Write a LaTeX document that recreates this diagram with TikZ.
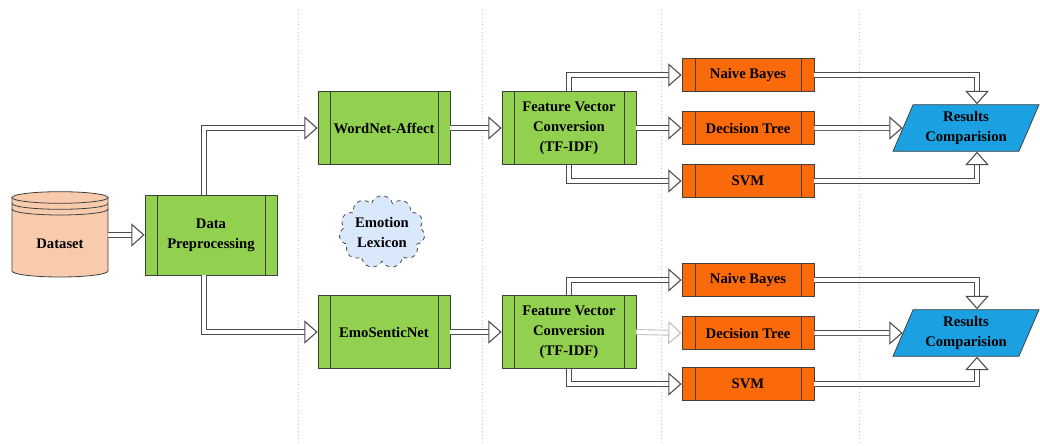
\documentclass[tikz,border=0pt]{standalone}
\usepackage{fontspec}
\setmainfont{Liberation Serif}
\usetikzlibrary{arrows.meta,calc,positioning,shapes.geometric,shapes.symbols}
\definecolor{peach}{HTML}{F8CBAD}
\definecolor{grn}{HTML}{92D050}
\definecolor{orng}{HTML}{FA6A0A}
\definecolor{azul}{HTML}{1BA1E2}
\definecolor{nube}{HTML}{DAE8FC}
\tikzset{
  txt/.style={font=\fontsize{11}{15}\selectfont\bfseries,align=center,inner sep=0pt},
  bars/.style={path picture={\draw[black!75,line width=0.6pt]
      ($(path picture bounding box.north west)+(#1,0)$) -- ($(path picture bounding box.south west)+(#1,0)$)
      ($(path picture bounding box.north east)+(-#1,0)$) -- ($(path picture bounding box.south east)+(-#1,0)$);}},
  proc/.style={txt,rectangle,draw=black!75,line width=0.6pt,fill=grn,minimum width=99pt,minimum height=54.75pt,bars=9pt},
  clf/.style={txt,rectangle,draw=black!75,line width=0.6pt,fill=orng,minimum width=99pt,minimum height=24.75pt,bars=9.75pt},
  res/.style={txt,trapezium,trapezium left angle=65,trapezium right angle=115,trapezium stretches=true,
      draw=black!75,line width=0.6pt,fill=azul,minimum width=110pt,minimum height=35pt},
  conn/.style={draw=black!70,line width=0.7pt,double=white,double distance=3pt,
      -{Triangle[length=10pt,width=17.5pt,fill=white,line width=0.8pt]}},
  faint/.style={conn,draw=black!25},
  sep/.style={gray!45,dotted,line width=0.7pt}
}
\begin{document}
\begin{tikzpicture}[x=0.75pt,y=-0.75pt]
\useasboundingbox (0,0) rectangle (1040,446);
% column separators
\foreach \c in {298,482,661,859}{\draw[sep] (\c,10) -- (\c,446);}
% dataset drum
\fill[peach] (12,197.5) -- (12,271) arc[start angle=180,end angle=0,x radius=48,y radius=6]
  -- (108,197.5) arc[start angle=0,end angle=-180,x radius=48,y radius=5.8] -- cycle;
\draw[black!75,line width=0.6pt] (12,197.5) -- (12,271) arc[start angle=180,end angle=0,x radius=48,y radius=6]
  -- (108,197.5);
\draw[black!75,line width=0.6pt] (60,197.5) ellipse[x radius=48,y radius=5.8];
\foreach \d in {6,11.7}{\draw[black!75,line width=0.6pt] (12,197.5+\d) arc[start angle=180,end angle=0,x radius=48,y radius=5.8];}
\node[txt,minimum width=72pt,minimum height=60pt] (dataset) at (60,235) {\raisebox{-10pt}[0pt][0pt]{Dataset}};

\node[proc,minimum height=60pt] (pre) at (211,235) {Data\\Preprocessing};
\node[proc] (wna) at (384,128) {WordNet-Affect};
\node[proc] (esn) at (384,332) {EmoSenticNet};
\node[txt,cloud,cloud puffs=11,aspect=1.3,draw=black!70,dashed,line width=0.6pt,fill=nube,
  minimum width=64pt,minimum height=50pt] (lex) at (382,232) {Emotion\\Lexicon};

\node[proc,minimum width=100.5pt] (fv1) at (569,128) {Feature Vector\\Conversion\\(TF-IDF)};
\node[proc,minimum width=100.5pt] (fv2) at (569,332) {Feature Vector\\Conversion\\(TF-IDF)};

\node[clf] (nb1) at (748,75) {Naive Bayes};
\node[clf] (dt1) at (748,128) {Decision Tree};
\node[clf] (svm1) at (748,181) {SVM};
\node[clf] (nb2) at (748,280) {Naive Bayes};
\node[clf] (dt2) at (748,333) {Decision Tree};
\node[clf] (svm2) at (748,384) {SVM};

\node[res] (res1) at (966,128) {Results\\Comparision};
\node[res] (res2) at (966,333) {Results\\Comparision};

% connectors
\draw[conn] (dataset.east) -- (pre.west);
\draw[conn] ($(pre.north)+(-7,0)$) |- (wna.west);
\draw[conn] ($(pre.south)+(-7,0)$) |- (esn.west);
\draw[conn] (wna.east) -- (fv1.west);
\draw[conn] (esn.east) -- (fv2.west);
\draw[conn] (fv1.north) |- (nb1.west);
\draw[conn] (fv1.east) -- (dt1.west);
\draw[conn] (fv1.south) |- (svm1.west);
\draw[conn] (fv2.north) |- (nb2.west);
\draw[faint] (fv2.east) -- (dt2.west);
\draw[conn] (fv2.south) |- (svm2.west);
\draw[conn] (nb1.east) -| ($(res1.north)+(11,0)$);
\draw[conn] (dt1.east) -- (res1.west);
\draw[conn] (svm1.east) -| ($(res1.south)+(11,0)$);
\draw[conn] (nb2.east) -| ($(res2.north)+(11,0)$);
\draw[conn] (dt2.east) -- (res2.west);
\draw[conn] (svm2.east) -| ($(res2.south)+(11,0)$);
\end{tikzpicture}
\end{document}
